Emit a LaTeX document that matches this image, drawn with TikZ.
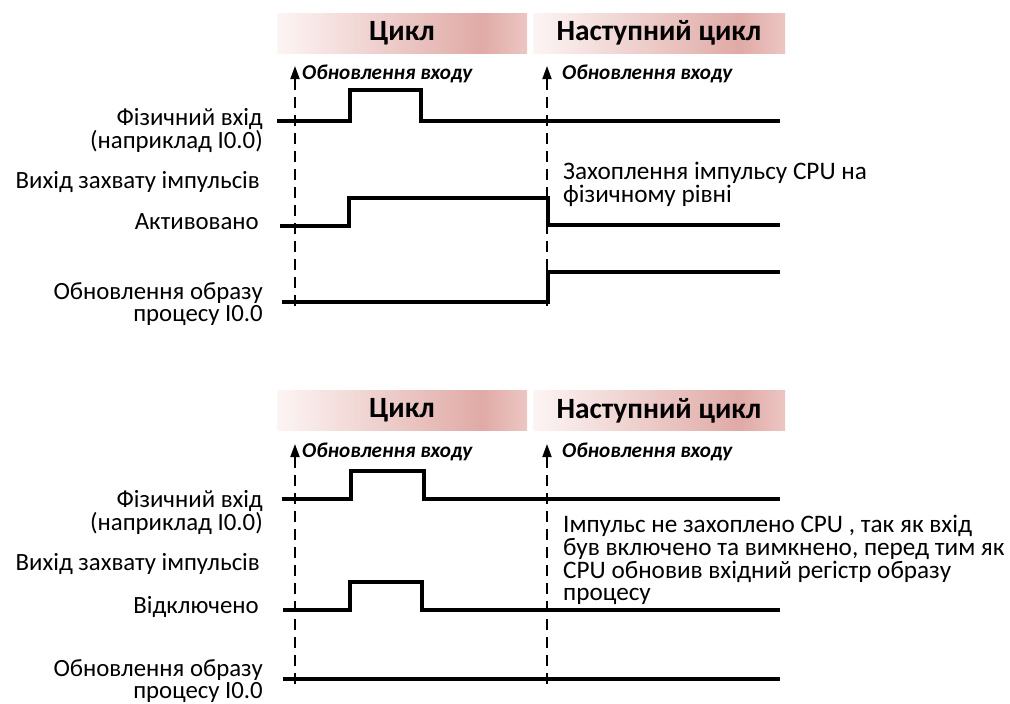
\documentclass[tikz,border=0pt]{standalone}
\usepackage{fontspec}
\setmainfont{Carlito}
\usetikzlibrary{arrows.meta}

\definecolor{barA}{RGB}{252,245,244}
\definecolor{barB}{RGB}{224,170,166}
\definecolor{barC}{RGB}{236,198,195}
% soft rose band used behind the cycle titles
\pgfdeclarehorizontalshading{cyclebar}{100bp}{color(0bp)=(barA); color(25bp)=(barA); color(66bp)=(barB); color(75bp)=(barC); color(100bp)=(barC)}

\begin{document}
\begin{tikzpicture}[x=1pt,y=-1pt,
  bar/.style={shading=cyclebar, draw=none, minimum height=40pt, inner sep=0pt,
    font=\bfseries\fontsize{29.4}{31}\selectfont},
  sig/.style={line width=3.2pt, line join=miter},
  tick/.style={line width=1.8pt, dash pattern=on 11pt off 7pt,
    -{Triangle[width=9pt,length=13pt]}},
  upd/.style={anchor=west, inner sep=0pt, font=\bfseries\itshape\fontsize{21.2}{22}\selectfont},
  lbl/.style={anchor=east, align=right, inner sep=0pt, font=\fontsize{24.8}{22.8}\selectfont},
  note/.style={anchor=west, align=left, inner sep=0pt, font=\fontsize{25.2}{22.8}\selectfont}]
\useasboundingbox (0,0) rectangle (1010,704);

% ---------- upper diagram: pulse catch enabled ----------
\node[bar, minimum width=250pt] (h1) at (402,33) {Цикл};
\node[bar, minimum width=252pt] (h2) at (659,33) {Наступний цикл};

\coordinate (u1b) at (295,306);
\coordinate (u1t) at (295,66);
\coordinate (u2b) at (547,306);
\coordinate (u2t) at (547,66);
\draw[tick] (u1b) -- (u1t);
\draw[tick] (u2b) -- (u2t);
\node[upd] (t1) at (302,74) {Обновлення входу};
\node[upd] (t2) at (562,74) {Обновлення входу};

\draw[sig] (277,121) -- (350,121) -- (350,90) -- (421,90) -- (421,121) -- (780,121);
\draw[sig] (280,226) -- (349,226) -- (349,198) -- (548,198) -- (548,225) -- (780,225);
\draw[sig] (282,302) -- (548,302) -- (548,272) -- (780,272);

\node[lbl] (l1) at (263,130.5) {Фізичний вхід\\(наприклад I0.0)};
\node[lbl] (l2) at (260,182) {Вихід захвату імпульсів};
\node[lbl] (l3) at (259,222) {Активовано};
\node[lbl] (l4) at (263,304) {Обновлення образу\\процесу I0.0};

\node[note] (n1) at (563,184) {Захоплення імпульсу CPU на\\фізичному рівні};

% ---------- lower diagram: pulse catch disabled ----------
\node[bar, minimum width=250pt] (h3) at (402,410.5) {Цикл};
\node[bar, minimum width=252pt] (h4) at (659,410.5) {Наступний цикл};

\coordinate (d1b) at (295,684);
\coordinate (d1t) at (295,444);
\coordinate (d2b) at (547,684);
\coordinate (d2t) at (547,444);
\draw[tick] (d1b) -- (d1t);
\draw[tick] (d2b) -- (d2t);
\node[upd] (t3) at (302,452) {Обновлення входу};
\node[upd] (t4) at (562,452) {Обновлення входу};

\draw[sig] (282,499) -- (351,499) -- (351,471) -- (424,471) -- (424,499) -- (780,499);
\draw[sig] (283,610) -- (350,610) -- (350,582) -- (422,582) -- (422,610) -- (780,610);
\draw[sig] (283,679) -- (780,679);

\node[lbl] (l5) at (263,512.5) {Фізичний вхід\\(наприклад I0.0)};
\node[lbl] (l6) at (260,564) {Вихід захвату імпульсів};
\node[lbl] (l7) at (259,607) {Відключено};
\node[lbl] (l8) at (263,681) {Обновлення образу\\процесу I0.0};

\node[note] (n2) at (563,560) {Імпульс не захоплено CPU , так як вхід\\був включено та вимкнено, перед тим як\\CPU обновив вхідний регістр образу\\процесу};
\end{tikzpicture}
\end{document}
